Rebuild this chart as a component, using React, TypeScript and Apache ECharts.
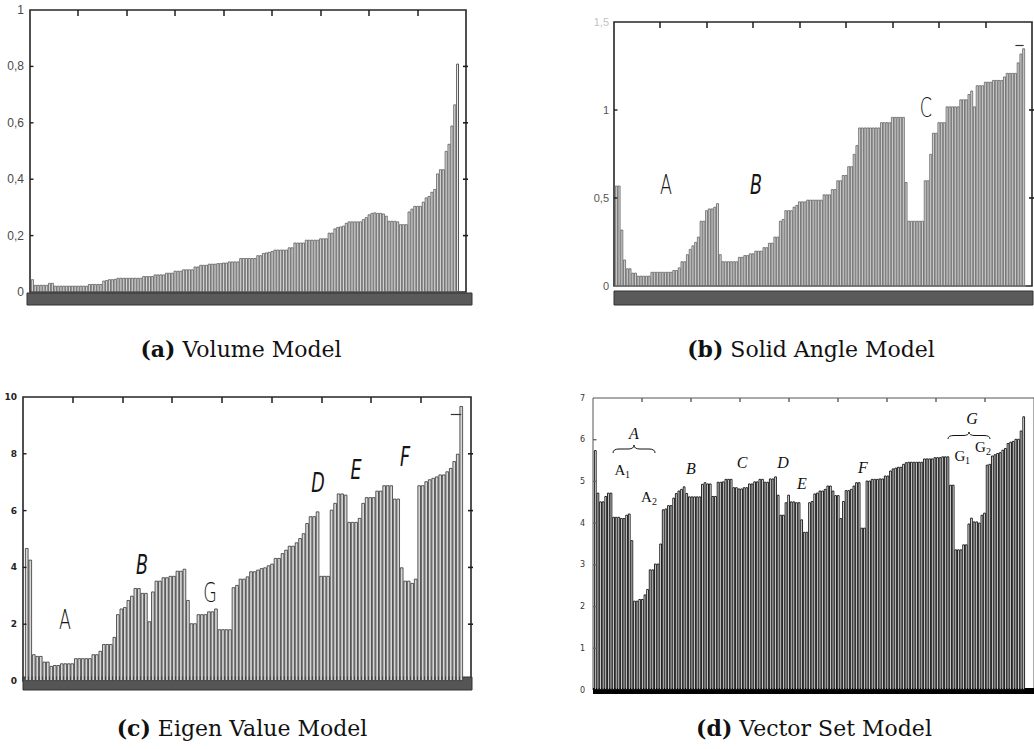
import React, { useEffect, useRef } from "react";
import * as echarts from "echarts";

// ---------- data ----------
const volumeValues = [
  0.045,
  0.025, 0.025, 0.025, 0.025, 0.025,
  0.032, 0.032,
  0.022, 0.022, 0.022, 0.022, 0.022, 0.022, 0.022, 0.022, 0.022, 0.022, 0.022, 0.022,
  0.028, 0.028, 0.028, 0.028, 0.028,
  0.040, 0.042, 0.045, 0.045, 0.046,
  0.050, 0.050, 0.050, 0.050, 0.050, 0.050, 0.050, 0.050, 0.050,
  0.056, 0.056, 0.056, 0.056,
  0.062, 0.062, 0.062, 0.062,
  0.068, 0.068, 0.068,
  0.075, 0.075, 0.075,
  0.080, 0.080, 0.080, 0.080,
  0.090, 0.090,
  0.096, 0.096, 0.096,
  0.100, 0.100, 0.100, 0.102, 0.102, 0.104, 0.104,
  0.108, 0.108, 0.108, 0.108,
  0.120, 0.120, 0.120, 0.120, 0.120, 0.120,
  0.130, 0.130,
  0.138, 0.140, 0.142, 0.145,
  0.150, 0.150, 0.150, 0.150, 0.150,
  0.158, 0.158,
  0.175, 0.175, 0.175, 0.175,
  0.185, 0.185, 0.185, 0.185, 0.185,
  0.190, 0.190, 0.190,
  0.210, 0.210,
  0.225, 0.230, 0.232, 0.235,
  0.245,
  0.250, 0.250, 0.250, 0.250, 0.250,
  0.258, 0.265,
  0.275, 0.280,
  0.282, 0.280, 0.280, 0.278, 0.270,
  0.252, 0.252, 0.252, 0.250,
  0.240, 0.240, 0.240,
  0.285, 0.295, 0.305, 0.305, 0.305, 0.320, 0.335, 0.340, 0.355, 0.365,
  0.420, 0.435, 0.435, 0.500, 0.525, 0.590, 0.665, 0.810,
];

const solidAngleValues = [
  0.57, 0.57, 0.32, 0.15, 0.10, 0.10, 0.075, 0.075, 0.058, 0.058,
  0.058, 0.058, 0.058, 0.08, 0.08, 0.08, 0.08, 0.08, 0.08, 0.08,
  0.08, 0.09, 0.09, 0.105, 0.14, 0.14, 0.18, 0.21, 0.23, 0.25,
  0.28, 0.37, 0.37, 0.43, 0.44, 0.44, 0.45, 0.47, 0.18, 0.14,
  0.14, 0.14, 0.14, 0.14, 0.14, 0.165, 0.165, 0.175, 0.175, 0.185,
  0.185, 0.2, 0.2, 0.2, 0.22, 0.22, 0.245, 0.245, 0.28, 0.28,
  0.37, 0.38, 0.43, 0.43, 0.43, 0.45, 0.46, 0.48, 0.48, 0.48,
  0.49, 0.49, 0.49, 0.49, 0.49, 0.49, 0.52, 0.52, 0.52, 0.55,
  0.55, 0.6, 0.6, 0.63, 0.63, 0.68, 0.68, 0.75, 0.8, 0.9,
  0.9, 0.9, 0.9, 0.9, 0.9, 0.9, 0.9, 0.93, 0.93, 0.93,
  0.93, 0.96, 0.96, 0.96, 0.96, 0.96, 0.59, 0.37, 0.37, 0.37,
  0.37, 0.37, 0.37, 0.6, 0.6, 0.75, 0.87, 0.87, 0.93, 0.93,
  0.93, 1.02, 1.02, 1.02, 1.02, 1.02, 1.06, 1.06, 1.06, 1.09,
  1.11, 1.02, 1.14, 1.14, 1.14, 1.16, 1.16, 1.16, 1.17, 1.17,
  1.17, 1.17, 1.19, 1.21, 1.21, 1.21, 1.21, 1.27, 1.32, 1.35,
];

const eigenValues = [
  4.68, 4.27, 0.94, 0.88, 0.88, 0.68, 0.68, 0.53, 0.56, 0.56,
  0.62, 0.62, 0.62, 0.62, 0.8, 0.8, 0.8, 0.8, 0.8, 0.94,
  0.94, 1.06, 1.3, 1.3, 1.3, 1.55, 2.35, 2.55, 2.6, 2.85,
  3.0, 3.27, 3.27, 3.1, 3.1, 2.1, 3.15, 3.53, 3.53, 3.65,
  3.65, 3.7, 3.7, 3.88, 3.88, 3.95, 2.85, 2.03, 2.03, 2.35,
  2.35, 2.35, 2.45, 2.45, 2.55, 1.82, 1.82, 1.82, 1.82, 3.3,
  3.38, 3.6, 3.6, 3.68, 3.86, 3.86, 3.92, 3.97, 4.0, 4.07,
  4.13, 4.33, 4.33, 4.5, 4.62, 4.76, 4.76, 4.88, 5.03, 5.2,
  5.56, 5.8, 5.8, 5.97, 3.7, 3.7, 3.7, 6.03, 6.27, 6.6,
  6.6, 6.56, 5.6, 5.6, 5.6, 5.74, 6.27, 6.47, 6.47, 6.47,
  6.7, 6.7, 6.89, 6.89, 6.89, 6.42, 6.42, 4.0, 3.53, 3.53,
  3.45, 3.6, 6.89, 6.89, 7.03, 7.1, 7.15, 7.2, 7.27, 7.27,
  7.38, 7.5, 7.74, 8.0, 9.68,
];

const vectorSetValues = [
  5.75, 4.73, 4.52, 4.52, 4.65, 4.73, 4.73, 4.15, 4.15, 4.15,
  4.12, 4.12, 4.2, 4.23, 3.59, 2.14, 2.14, 2.18, 2.18, 2.29,
  2.42, 2.89, 2.89, 3.03, 3.03, 3.51, 4.33, 4.35, 4.43, 4.43,
  4.61, 4.72, 4.78, 4.82, 4.88, 4.72, 4.64, 4.64, 4.64, 4.64,
  4.64, 4.94, 4.98, 4.95, 4.95, 4.65, 4.65, 4.99, 4.99, 5.0,
  5.06, 5.06, 5.06, 4.86, 4.86, 4.83, 4.83, 4.86, 4.86, 4.95,
  4.95, 5.0, 5.0, 5.06, 5.06, 4.99, 4.99, 5.07, 5.07, 5.12,
  4.68, 4.2, 4.2, 4.5, 4.68, 4.52, 4.52, 4.5, 4.5, 4.09,
  3.79, 3.79, 4.5, 4.53, 4.71, 4.73, 4.78, 4.78, 4.82, 4.9,
  4.9, 4.78, 4.67, 4.67, 4.12, 4.53, 4.79, 4.79, 4.82, 4.9,
  4.98, 4.98, 3.89, 3.89, 5.02, 5.02, 5.06, 5.06, 5.06, 5.07,
  5.07, 5.14, 5.14, 5.26, 5.31, 5.33, 5.35, 5.35, 5.42, 5.46,
  5.47, 5.47, 5.47, 5.47, 5.47, 5.47, 5.55, 5.55, 5.55, 5.55,
  5.58, 5.58, 5.58, 5.6, 5.6, 5.6, 4.92, 4.92, 3.37, 3.37,
  3.37, 3.49, 3.49, 3.99, 4.13, 4.04, 4.04, 4.01, 4.2, 4.25,
  5.4, 5.42, 5.62, 5.65, 5.68, 5.7, 5.76, 5.8, 5.92, 5.95,
  5.97, 6.02, 6.02, 6.22, 6.56,
];

// axis ranges
const yMaxes = [1, 1.5, 10, 7];
const yIntervals = [0.2, 0.5, 2, 1];
const topTickCount = 9;

// error-bar like markers (index range, value)
const solidAngleMarker = { from: 146, to: 149, value: 1.37 };
const eigenMarker = { from: 121, to: 124, value: 9.38 };

const captions = [
  { tag: "(a)", text: "Volume Model" },
  { tag: "(b)", text: "Solid Angle Model" },
  { tag: "(c)", text: "Eigen Value Model" },
  { tag: "(d)", text: "Vector Set Model" },
];

// ---------- layout ----------
const frames = [
  { left: 30, top: 10, width: 436, height: 282 },
  { left: 614, top: 22, width: 418, height: 264 },
  { left: 23, top: 397, width: 448, height: 284 },
  { left: 593, top: 398, width: 448, height: 292 },
];
const barAreas = [
  { left: 31, width: 428 },
  { left: 615, width: 410 },
  { left: 25, width: 438 },
  { left: 594, width: 431 },
];
const captionPos = [
  [241, 349],
  [811, 349],
  [242, 728],
  [814, 728],
];

function brace(x1: number, x2: number, yTip: number, yEnd: number) {
  const xm = (x1 + x2) / 2;
  const ym = (yTip + yEnd) / 2;
  const r = Math.min(6, (x2 - x1) / 6);
  const st = { stroke: "#111", lineWidth: 1, fill: "none" };
  return [
    { type: "bezierCurve", shape: { x1: x1, y1: yEnd, x2: x1 + r, y2: ym, cpx1: x1, cpy1: ym }, style: st },
    { type: "line", shape: { x1: x1 + r, y1: ym, x2: xm - r, y2: ym }, style: st },
    { type: "bezierCurve", shape: { x1: xm - r, y1: ym, x2: xm, y2: yTip, cpx1: xm, cpy1: ym }, style: st },
    { type: "bezierCurve", shape: { x1: xm, y1: yTip, x2: xm + r, y2: ym, cpx1: xm, cpy1: ym }, style: st },
    { type: "line", shape: { x1: xm + r, y1: ym, x2: x2 - r, y2: ym }, style: st },
    { type: "bezierCurve", shape: { x1: x2 - r, y1: ym, x2: x2, y2: yEnd, cpx1: x2, cpy1: ym }, style: st },
  ];
}

function sansLetter(t: string, x: number, y: number, italic = false) {
  return {
    type: "text",
    x,
    y,
    scaleX: 0.65,
    style: {
      text: t,
      x: 0,
      y: 0,
      align: "center",
      verticalAlign: "middle",
      fontFamily: "DejaVu Sans",
      fontWeight: 200,
      fontStyle: italic ? "italic" : "normal",
      fontSize: 27,
      fill: "#151515",
    },
  };
}

function serifText(t: string, x: number, y: number, size: number, italic: boolean) {
  return {
    type: "text",
    x,
    y,
    style: {
      text: t,
      x: 0,
      y: 0,
      align: "center",
      verticalAlign: "middle",
      fontFamily: "Liberation Serif",
      fontStyle: italic ? "italic" : "normal",
      fontSize: size,
      fill: "#111",
    },
  };
}

function fmtComma(v: number) {
  if (v === 0) return "0";
  if (Number.isInteger(v)) return String(v);
  return v.toFixed(1).replace(".", ",");
}

function tickRect(x: number, y: number, w: number, h: number, color: string) {
  return {
    type: "rect",
    z: 120,
    shape: { x, y, width: w, height: h },
    style: { fill: color },
  };
}

export default function App() {
  const ref = useRef<HTMLDivElement>(null);

  useEffect(() => {
    if (!ref.current) return;
    const chart = echarts.init(ref.current, undefined, { renderer: "svg" });

    const frameColor = (i: number) => (i === 3 ? "#555" : "#262626");
    const frameWidth = (i: number) => (i === 3 ? 1 : 1.6);

    const frameGrids = frames.map((f, i) => ({
      ...f,
      show: true,
      backgroundColor: "transparent",
      borderColor: frameColor(i),
      borderWidth: frameWidth(i),
    }));
    const barGrids = barAreas.map((b, i) => ({
      left: b.left,
      width: b.width,
      top: frames[i].top,
      height: frames[i].height,
    }));

    const topAxes = frames.map((_, i) => ({
      gridIndex: i,
      type: "value",
      position: "top",
      min: 0,
      max: topTickCount,
      interval: 1,
      axisLine: { show: false, onZero: false },
      axisTick: { show: false },
      axisLabel: { show: false },
      splitLine: { show: false },
    }));
    const barXAxes = [volumeValues, solidAngleValues, eigenValues, vectorSetValues].map((d, i) => ({
      gridIndex: 4 + i,
      type: "category",
      data: d.map((_, k) => String(k)),
      boundaryGap: true,
      axisLine: { show: i === 1, onZero: false, lineStyle: { color: "#8a8a8a", width: 1.5 } },
      axisTick: { show: false },
      axisLabel: { show: false },
      splitLine: { show: false },
    }));

    const labelStyles = [
      { fontSize: 12, margin: 6, color: "#4a4a4a", fontFamily: "'Liberation Sans Narrow', 'Liberation Sans', sans-serif" },
      { fontSize: 11, margin: 5, color: "#555", fontFamily: "'Liberation Sans Narrow', 'Liberation Sans', sans-serif" },
      { fontSize: 9, margin: 6, color: "#222", fontFamily: "'DejaVu Sans', sans-serif", fontWeight: "bold" },
      { fontSize: 8, margin: 8, color: "#333", fontFamily: "'DejaVu Sans', sans-serif" },
    ];

    const leftAxes = frames.map((_, i) => ({
      gridIndex: i,
      type: "value",
      position: "left",
      min: 0,
      max: yMaxes[i],
      interval: yIntervals[i],
      axisLine: { show: false, onZero: false },
      axisTick: { show: false },
      axisLabel: {
        show: true,
        ...labelStyles[i],
        formatter: (v: number) => fmtComma(v),
        color: i === 1 ? (v: any) => (Number(v) === 1.5 ? "#c4c4c4" : "#555") : labelStyles[i].color,
      },
      splitLine: { show: false },
    }));
    const rightAxes = frames.map((_, i) => ({
      gridIndex: i,
      type: "value",
      position: "right",
      min: 0,
      max: yMaxes[i],
      interval: yIntervals[i],
      axisLine: { show: false, onZero: false },
      axisTick: { show: false },
      axisLabel: { show: false },
      splitLine: { show: false },
    }));
    const barYAxes = frames.map((_, i) => ({
      gridIndex: 4 + i,
      type: "value",
      min: 0,
      max: yMaxes[i],
      show: false,
    }));

    const barStyles = [
      { color: "#d4d4d4", borderColor: "#4d4d4d", borderWidth: 0.7 },
      { color: "#cfcfcf", borderColor: "#555", borderWidth: 0.7 },
      { color: "#d6d6d6", borderColor: "#333", borderWidth: 0.8 },
      { color: "#f6f6f6", borderColor: "#000", borderWidth: 0.85 },
    ];

    const markerLine = (m: { from: number; to: number; value: number }) => ({
      symbol: "none",
      silent: true,
      label: { show: false },
      lineStyle: { color: "#333", type: "solid", width: 1.2 },
      data: [[{ coord: [m.from, m.value] }, { coord: [m.to, m.value] }]],
    });

    const lastVol = volumeValues.length - 1;
    const series = [
      {
        type: "bar",
        xAxisIndex: 4,
        yAxisIndex: 8,
        barCategoryGap: "0%",
        itemStyle: barStyles[0],
        data: volumeValues.map((v, k) =>
          k === lastVol ? { value: v, itemStyle: { color: "#ffffff", borderColor: "#555", borderWidth: 1 } } : v
        ),
      },
      {
        type: "bar",
        xAxisIndex: 5,
        yAxisIndex: 9,
        barCategoryGap: "0%",
        itemStyle: barStyles[1],
        data: solidAngleValues,
        markLine: markerLine(solidAngleMarker),
      },
      {
        type: "bar",
        xAxisIndex: 6,
        yAxisIndex: 10,
        barCategoryGap: "0%",
        itemStyle: barStyles[2],
        data: eigenValues,
        markLine: markerLine(eigenMarker),
      },
      {
        type: "bar",
        xAxisIndex: 7,
        yAxisIndex: 11,
        barCategoryGap: "0%",
        itemStyle: barStyles[3],
        data: vectorSetValues,
      },
    ];

    const capFont = "DejaVu Serif";
    const captionEls = captions.map((c, i) => ({
      type: "text",
      x: captionPos[i][0],
      y: captionPos[i][1],
      style: {
        text: `{b|${c.tag}} ${c.text}`,
        x: 0,
        y: 0,
        align: "center",
        verticalAlign: "middle",
        fontFamily: capFont,
        fontSize: 22,
        fill: "#111",
        rich: {
          b: { fontFamily: capFont, fontWeight: "bold", fontSize: 22, fill: "#111", color: "#111" },
        },
      },
    }));

    const bands = [
      { type: "rect", shape: { x: 27, y: 293, width: 445, height: 12 }, style: { fill: "#5a5a5a", stroke: "#333", lineWidth: 1 } },
      { type: "rect", shape: { x: 614, y: 291, width: 419, height: 14 }, style: { fill: "#5a5a5a", stroke: "#333", lineWidth: 1 } },
      { type: "rect", shape: { x: 23, y: 677, width: 449, height: 13 }, style: { fill: "#555", stroke: "#333", lineWidth: 1 } },
      { type: "rect", shape: { x: 593, y: 688, width: 441, height: 6 }, style: { fill: "#000" } },
    ];

    const letters = [
      sansLetter("A", 666, 185),
      sansLetter("B", 756, 185, true),
      sansLetter("C", 926, 108),
      sansLetter("A", 65, 620),
      sansLetter("B", 142, 565, true),
      sansLetter("G", 210, 593),
      sansLetter("D", 318, 483, true),
      sansLetter("E", 356, 470, true),
      sansLetter("F", 405, 457, true),
    ];

    const dLabels = [
      serifText("A", 634, 433, 16, true),
      ...brace(613, 655, 445, 453),
      serifText("A", 620, 470, 15, false),
      serifText("1", 627.5, 474, 10, false),
      serifText("A", 646.5, 497, 15, false),
      serifText("2", 654.5, 501, 10, false),
      serifText("B", 691, 468, 16, true),
      serifText("C", 742, 462, 16, true),
      serifText("D", 783, 462, 16, true),
      serifText("E", 802, 483, 16, true),
      serifText("F", 863, 467, 16, true),
      serifText("G", 972, 418, 16, true),
      ...brace(948, 990, 432, 439),
      serifText("G", 960, 456, 15, false),
      serifText("1", 967.5, 460, 10, false),
      serifText("G", 980.5, 447, 15, false),
      serifText("2", 988.5, 451, 10, false),
    ];

    chart.setOption({
      animation: false,
      backgroundColor: "#ffffff",
      grid: [...frameGrids, ...barGrids],
      xAxis: [...topAxes, ...barXAxes],
      yAxis: [...leftAxes, ...rightAxes, ...barYAxes],
      series,
    });

    // tick marks on the frames (drawn as thin filled rects)
    const ticks: any[] = [];
    frames.forEach((f, i) => {
      const tickColor = i === 3 ? "#666" : "#1e1e1e";
      const topLen = i === 3 ? 4 : 6;
      for (let k = 1; k < topTickCount; k++) {
        let x = chart.convertToPixel({ xAxisIndex: i } as any, k) as number;
        if (typeof x !== "number" || isNaN(x)) x = f.left + (k / topTickCount) * f.width;
        ticks.push(tickRect(Math.round(x) - 0.75, f.top, 1.5, topLen, tickColor));
      }
      const steps = Math.round(yMaxes[i] / yIntervals[i]);
      for (let s = 1; s < steps; s++) {
        const v = s * yIntervals[i];
        let y = chart.convertToPixel({ yAxisIndex: i } as any, v) as number;
        if (typeof y !== "number" || isNaN(y)) y = f.top + f.height * (1 - v / yMaxes[i]);
        ticks.push(tickRect(f.left, y - 0.7, 3.5, 1.4, tickColor));
        if (i !== 3) {
          ticks.push(tickRect(f.left + f.width - 3, y - 0.8, 5, 1.6, tickColor));
        }
      }
    });

    chart.setOption({
      graphic: { elements: [...bands, ...letters, ...dLabels, ...captionEls, ...ticks] },
    });

    return () => chart.dispose();
  }, []);

  return (
    <div
      ref={ref}
      style={{ position: "absolute", left: 0, top: 0, width: 1034, height: 749, background: "#fff" }}
    />
  );
}
